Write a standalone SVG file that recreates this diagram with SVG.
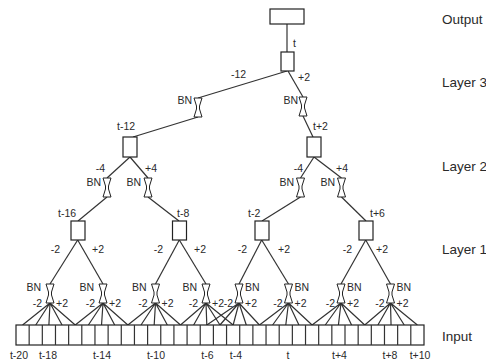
<svg xmlns="http://www.w3.org/2000/svg" xmlns:xlink="http://www.w3.org/1999/xlink" width="486" height="362" viewBox="0 0 486 362">
<style>
.ln{stroke:#333;stroke-width:1.2;fill:none}
.bx{fill:#fff;stroke:#222;stroke-width:1.2}
.bn{fill:#fff;stroke:#222;stroke-width:1}
text{font-family:"Liberation Sans",Arial,sans-serif;fill:#2a2a2a}
.s{font-size:10.5px}
.l{font-size:13.5px}
.e{text-anchor:end}
.m{text-anchor:middle}
</style>
<defs>
<path id="bn" d="M-4,0 H4 L1.5,8 V11 L4,19 H-4 L-1.5,11 V8 Z"/>
</defs>
<rect width="486" height="362" fill="#fff"/>
<g id="connectors">
<line class="ln" x1="287" y1="24" x2="287" y2="52"/>
<polyline class="ln" points="287,71 198,98"/>
<polyline class="ln" points="198,117 133,137"/>
<polyline class="ln" points="288,71 303,97"/>
<polyline class="ln" points="303,116 313,137"/>
<polyline class="ln" points="130,157 107,178"/>
<polyline class="ln" points="107,197 78,221"/>
<polyline class="ln" points="130,157 148,178"/>
<polyline class="ln" points="148,197 179,221"/>
<polyline class="ln" points="314,157 300.5,178"/>
<polyline class="ln" points="300.5,197 262,221"/>
<polyline class="ln" points="314,157 341.5,178"/>
<polyline class="ln" points="341.5,197 366,221"/>
<line class="ln" x1="77.7" y1="240" x2="50" y2="284"/>
<line class="ln" x1="77.7" y1="240" x2="103" y2="284"/>
<line class="ln" x1="179.3" y1="240" x2="155.5" y2="284"/>
<line class="ln" x1="179.3" y1="240" x2="206" y2="284"/>
<line class="ln" x1="261.7" y1="240" x2="239" y2="284"/>
<line class="ln" x1="261.7" y1="240" x2="288.5" y2="284"/>
<line class="ln" x1="365.7" y1="240" x2="341" y2="284"/>
<line class="ln" x1="365.7" y1="240" x2="390.5" y2="284"/>
<path class="ln" d="M50,303 L22.58,325 M50,303 L35.74,325 M50,303 L48.9,325 M50,303 L62.06,325 M50,303 L75.22,325"/>
<path class="ln" d="M103,303 L75.22,325 M103,303 L88.38,325 M103,303 L101.54,325 M103,303 L114.7,325 M103,303 L127.86,325"/>
<path class="ln" d="M155.5,303 L127.86,325 M155.5,303 L141.02,325 M155.5,303 L154.18,325 M155.5,303 L167.34,325 M155.5,303 L180.5,325"/>
<path class="ln" d="M206,303 L180.5,325 M206,303 L193.66,325 M206,303 L206.82,325 M206,303 L219.98,325 M206,303 L233.14,325"/>
<path class="ln" d="M239,303 L206.82,325 M239,303 L219.98,325 M239,303 L233.14,325 M239,303 L246.3,325 M239,303 L259.46,325"/>
<path class="ln" d="M288.5,303 L259.46,325 M288.5,303 L272.62,325 M288.5,303 L285.78,325 M288.5,303 L298.94,325 M288.5,303 L312.1,325"/>
<path class="ln" d="M341,303 L312.1,325 M341,303 L325.26,325 M341,303 L338.42,325 M341,303 L351.58,325 M341,303 L364.74,325"/>
<path class="ln" d="M390.5,303 L364.74,325 M390.5,303 L377.9,325 M390.5,303 L391.06,325 M390.5,303 L404.22,325 M390.5,303 L417.38,325"/>
</g>
<g id="output"><rect class="bx" x="270" y="9" width="34" height="15"/></g>
<g id="layer3-t"><rect class="bx" x="281" y="52" width="13" height="19"/></g>
<g id="layer2-t-12"><rect class="bx" x="123" y="137" width="14" height="20"/></g>
<g id="layer2-t+2"><rect class="bx" x="307" y="137" width="14" height="20"/></g>
<g id="layer1-t-16"><rect class="bx" x="71" y="221" width="14" height="19"/></g>
<g id="layer1-t-8"><rect class="bx" x="172.5" y="221" width="14" height="19"/></g>
<g id="layer1-t-2"><rect class="bx" x="255" y="221" width="14" height="19"/></g>
<g id="layer1-t+6"><rect class="bx" x="359" y="221" width="14" height="19"/></g>
<g id="bn-nodes">
<use href="#bn" xlink:href="#bn" class="bn" x="198" y="98"/>
<use href="#bn" xlink:href="#bn" class="bn" x="303" y="97"/>
<use href="#bn" xlink:href="#bn" class="bn" x="107" y="178"/>
<use href="#bn" xlink:href="#bn" class="bn" x="148" y="178"/>
<use href="#bn" xlink:href="#bn" class="bn" x="300.5" y="178"/>
<use href="#bn" xlink:href="#bn" class="bn" x="341.5" y="178"/>
<use href="#bn" xlink:href="#bn" class="bn" x="50" y="284"/>
<use href="#bn" xlink:href="#bn" class="bn" x="103" y="284"/>
<use href="#bn" xlink:href="#bn" class="bn" x="155.5" y="284"/>
<use href="#bn" xlink:href="#bn" class="bn" x="206" y="284"/>
<use href="#bn" xlink:href="#bn" class="bn" x="239" y="284"/>
<use href="#bn" xlink:href="#bn" class="bn" x="288.5" y="284"/>
<use href="#bn" xlink:href="#bn" class="bn" x="341" y="284"/>
<use href="#bn" xlink:href="#bn" class="bn" x="390.5" y="284"/>
</g>
<g id="input">
<rect class="bx" x="16" y="325" width="408" height="20"/>
<path class="ln" stroke="#222" d="M29.16,325V345M42.32,325V345M55.48,325V345M68.64,325V345M81.8,325V345M94.96,325V345M108.12,325V345M121.28,325V345M134.44,325V345M147.6,325V345M160.76,325V345M173.92,325V345M187.08,325V345M200.24,325V345M213.4,325V345M226.56,325V345M239.72,325V345M252.88,325V345M266.04,325V345M279.2,325V345M292.36,325V345M305.52,325V345M318.68,325V345M331.84,325V345M345,325V345M358.16,325V345M371.32,325V345M384.48,325V345M397.64,325V345M410.8,325V345"/>
</g>
<g id="labels">
<text class="l" x="442" y="24">Output</text>
<text class="l" x="442" y="87">Layer 3</text>
<text class="l" x="442" y="171">Layer 2</text>
<text class="l" x="442" y="254">Layer 1</text>
<text class="l" x="442" y="341">Input</text>
<text class="s" x="293" y="47">t</text>
<text class="s m" x="238.5" y="78">-12</text>
<text class="s" x="298" y="81">+2</text>
<text class="s e" x="192" y="104">BN</text>
<text class="s e" x="298" y="104">BN</text>
<text class="s" x="117" y="130">t-12</text>
<text class="s" x="313" y="130">t+2</text>
<text class="s e" x="105" y="172">-4</text>
<text class="s" x="145" y="172">+4</text>
<text class="s e" x="101" y="186">BN</text>
<text class="s e" x="141" y="186">BN</text>
<text class="s e" x="303" y="172">-4</text>
<text class="s" x="336" y="172">+4</text>
<text class="s e" x="294" y="186">BN</text>
<text class="s e" x="335" y="186">BN</text>
<text class="s" x="58" y="217">t-16</text>
<text class="s" x="177" y="217">t-8</text>
<text class="s" x="248" y="217">t-2</text>
<text class="s" x="370" y="217">t+6</text>
<text class="s e" x="60" y="253">-2</text>
<text class="s" x="92" y="253">+2</text>
<text class="s e" x="163" y="253">-2</text>
<text class="s" x="194" y="253">+2</text>
<text class="s e" x="247" y="253">-2</text>
<text class="s" x="278" y="253">+2</text>
<text class="s e" x="352" y="253">-2</text>
<text class="s" x="376" y="253">+2</text>
<text class="s e" x="41" y="291">BN</text>
<text class="s e" x="94" y="291">BN</text>
<text class="s e" x="146.5" y="291">BN</text>
<text class="s e" x="197" y="291">BN</text>
<text class="s" x="245" y="291">BN</text>
<text class="s" x="294.5" y="291">BN</text>
<text class="s" x="347" y="291">BN</text>
<text class="s" x="396.5" y="291">BN</text>
<text class="s e" x="42" y="307">-2</text>
<text class="s" x="56" y="307">+2</text>
<text class="s e" x="95" y="307">-2</text>
<text class="s" x="109" y="307">+2</text>
<text class="s e" x="147.5" y="307">-2</text>
<text class="s" x="161.5" y="307">+2</text>
<text class="s e" x="198" y="307">-2</text>
<text class="s" x="212" y="307">+2</text>
<text class="s e" x="233" y="307">-2</text>
<text class="s" x="245" y="307">+2</text>
<text class="s e" x="282.5" y="307">-2</text>
<text class="s" x="294.5" y="307">+2</text>
<text class="s e" x="335" y="307">-2</text>
<text class="s" x="347" y="307">+2</text>
<text class="s e" x="384.5" y="307">-2</text>
<text class="s" x="396.5" y="307">+2</text>
<text class="s m" x="19" y="359">t-20</text>
<text class="s m" x="48" y="359">t-18</text>
<text class="s m" x="102" y="359">t-14</text>
<text class="s m" x="156" y="359">t-10</text>
<text class="s m" x="207.5" y="359">t-6</text>
<text class="s m" x="236" y="359">t-4</text>
<text class="s m" x="288" y="359">t</text>
<text class="s m" x="339.5" y="359">t+4</text>
<text class="s m" x="390" y="359">t+8</text>
<text class="s m" x="420" y="359">t+10</text>
</g>
</svg>
